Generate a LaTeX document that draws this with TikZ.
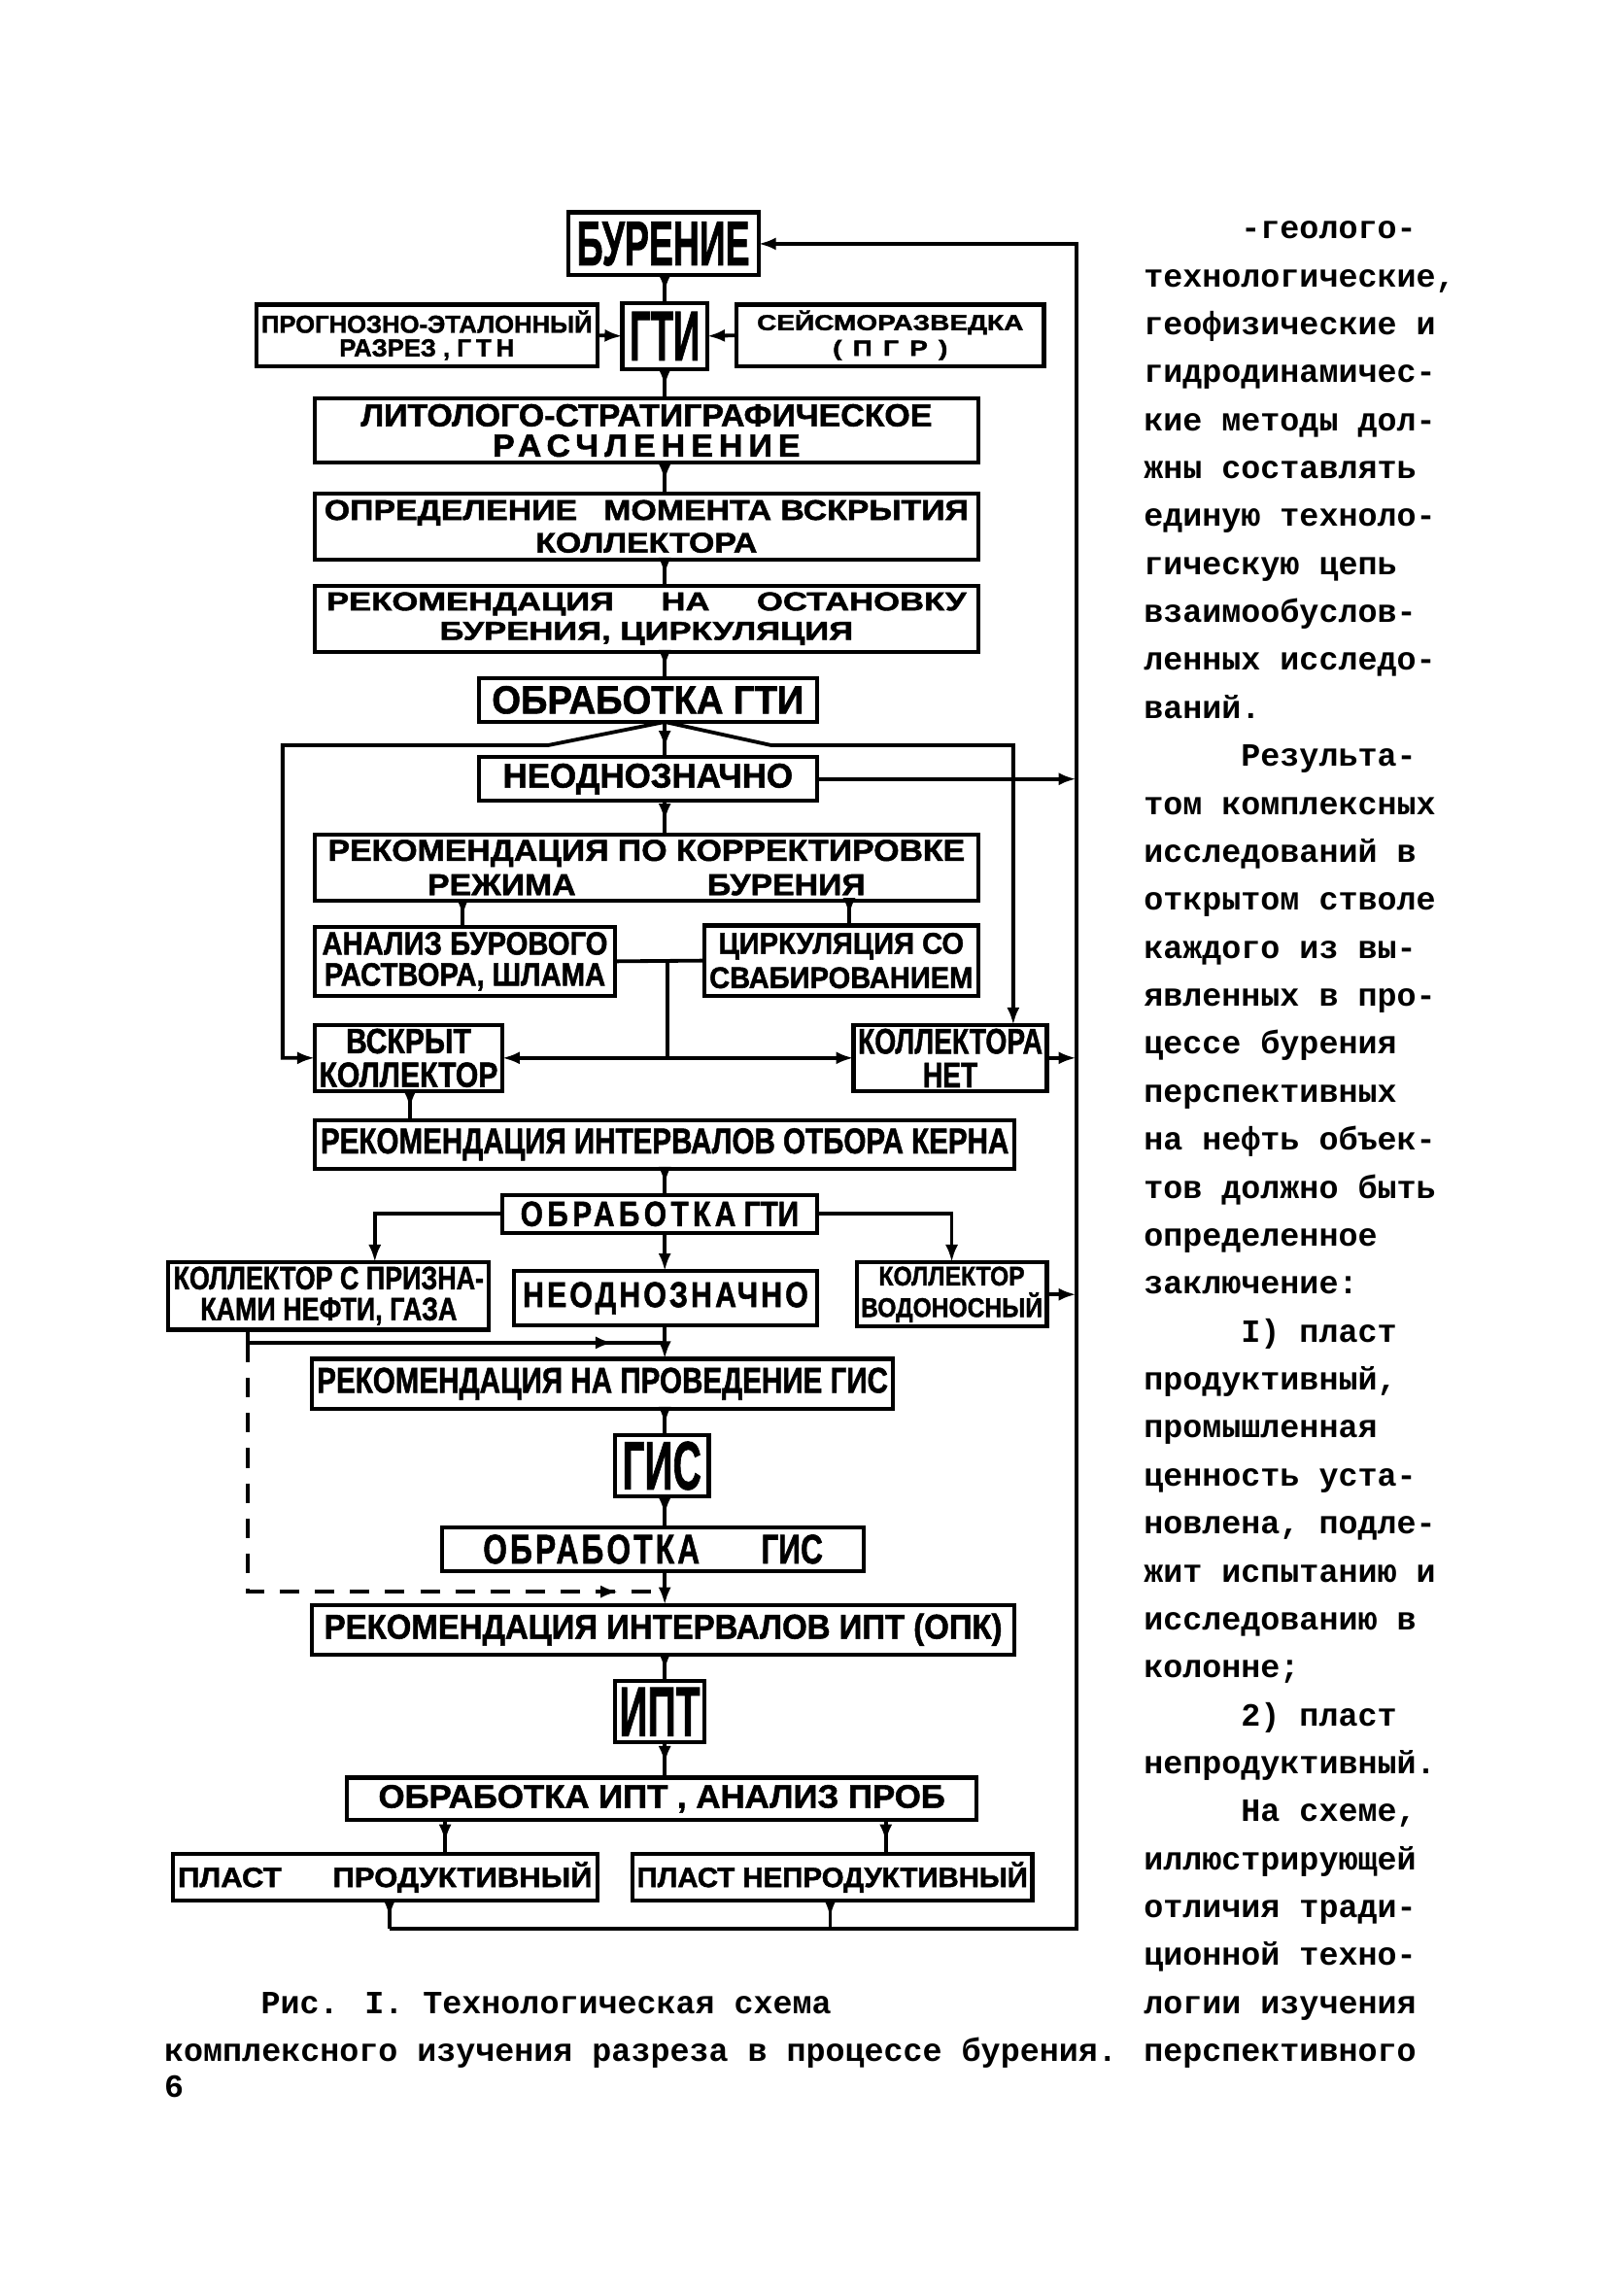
\documentclass[tikz,border=0pt]{standalone}
\usepackage{fontspec}
\usepackage{graphicx}
\newfontfamily\boxfont[BoldFeatures={FakeBold=1.5}]{Liberation Sans}
\newfontfamily\twfont{Liberation Mono}
\usetikzlibrary{arrows.meta,decorations.markings}
\newdimen\unitpx
\unitpx=0.75pt
\newcommand{\fx}[3]{\resizebox*{#1\unitpx}{#2\unitpx}{\boxfont\bfseries #3}}
\newcommand{\twol}[2]{\vbox{\baselineskip=0pt\lineskip=2.5pt\lineskiplimit=0pt\halign{\hfil##\hfil\cr #1\cr #2\cr}}}
\newcommand{\lsp}[2]{{\addfontfeature{LetterSpace=#1}#2}}
\newcommand{\bx}[6]{\node[box, minimum width={(#4-#2)*0.75pt}, minimum height={(#5-#3)*0.75pt}] (#1) at ({(#2+#4)/2},{(#3+#5)/2}) {#6};}
\begin{document}
\begin{tikzpicture}[x=0.75pt,y=-0.75pt,
  box/.style={draw, line width=2.1pt, inner sep=0pt, outer sep=0pt},
  conn/.style={line width=1.9pt},
  >={Latex[length=9pt,width=6.5pt]},
  midarrow/.style={postaction={decorate},decoration={markings,mark=at position #1 with {\arrow{>}}}},
  midarrow/.default=0.6,
  tw/.style={font=\twfont\bfseries\fontsize{16.6pt}{20pt}\selectfont, inner sep=0pt, anchor=base west}]
\fill[white] (0,0) rectangle (1097,1568);
\useasboundingbox (0,0) rectangle (1097,1568);

% ---------- boxes ----------
\bx{bur}{388}{145}{518}{188}{\fx{118}{30}{БУРЕНИЕ}}
\bx{gti}{425}{207}{483}{252}{\fx{48}{33}{ГТИ}}
\bx{prog}{175}{208}{408}{250}{\fx{226}{34}{\twol{ПРОГНОЗНО-ЭТАЛОННЫЙ}{РАЗРЕЗ , \lsp{20}{ГТН}}}}
\bx{seis}{503}{208}{713}{250}{\fx{182}{34}{\twol{СЕЙСМОРАЗВЕДКА}{\lsp{40}{(ПГР)}}}\hspace{14\unitpx}}
\bx{lit}{215}{272}{668}{316}{\fx{390}{36}{\twol{ЛИТОЛОГО-СТРАТИГРАФИЧЕСКОЕ}{\lsp{18}{РАСЧЛЕНЕНИЕ}}}}
\bx{opr}{215}{337}{668}{382}{\fx{440}{36}{\twol{ОПРЕДЕЛЕНИЕ\hspace{0.8em}МОМЕНТА ВСКРЫТИЯ}{КОЛЛЕКТОРА}}}
\bx{rek1}{215}{400}{668}{445}{\fx{437}{36}{\twol{РЕКОМЕНДАЦИЯ\hspace{1.4em}НА\hspace{1.4em}ОСТАНОВКУ}{БУРЕНИЯ, ЦИРКУЛЯЦИЯ}}}
\bx{obr1}{327}{463}{558}{493}{\fx{213}{19}{ОБРАБОТКА ГТИ}}
\bx{neod1}{327}{517}{558}{547}{\fx{198}{21}{НЕОДНОЗНАЧНО}\hspace{22\unitpx}}
\bx{rek2}{215}{570}{668}{615}{\fx{435}{38}{\twol{РЕКОМЕНДАЦИЯ ПО КОРРЕКТИРОВКЕ}{РЕЖИМА\hspace{4em}БУРЕНИЯ}}}
\bx{anal}{215}{633}{420}{680}{\fx{195}{40}{\twol{АНАЛИЗ БУРОВОГО}{РАСТВОРА, ШЛАМА}}}
\bx{cirk}{481}{632}{668}{680}{\fx{180}{38}{\twol{ЦИРКУЛЯЦИЯ СО}{СВАБИРОВАНИЕМ}}}
\bx{vskr}{215}{700}{343}{745}{\fx{122}{40}{\twol{ВСКРЫТ}{КОЛЛЕКТОР}}}
\bx{knet}{583}{700}{715}{745}{\fx{126}{40}{\twol{КОЛЛЕКТОРА}{НЕТ}}}
\bx{kern}{215}{765}{693}{798}{\fx{470}{22}{РЕКОМЕНДАЦИЯ ИНТЕРВАЛОВ ОТБОРА КЕРНА}}
\bx{obr2}{343}{816}{558}{842}{\fx{190}{17}{\lsp{15}{ОБРАБОТКА} ГТИ}}
\bx{kpriz}{115}{862}{334}{908}{\fx{212}{40}{\twol{КОЛЛЕКТОР С ПРИЗНА-}{КАМИ НЕФТИ, ГАЗА}}}
\bx{neod2}{351}{868}{558}{905}{\fx{195}{22}{\lsp{10}{НЕОДНОЗНАЧНО}}}
\bx{kvod}{585}{862}{715}{906}{\fx{124}{38}{\twol{КОЛЛЕКТОР}{ВОДОНОСНЫЙ}}}
\bx{gisrek}{213}{928}{610}{962}{\fx{390}{22}{РЕКОМЕНДАЦИЯ НА ПРОВЕДЕНИЕ ГИС}}
\bx{gis}{420}{980}{484}{1022}{\fx{54}{33}{ГИС}}
\bx{obrgis}{302}{1043}{590}{1073}{\fx{232}{20}{\lsp{10}{ОБРАБОТКА}\hspace{2em}ГИС}}
\bx{iptrec}{213}{1096}{693}{1130}{\fx{463}{22}{РЕКОМЕНДАЦИЯ ИНТЕРВАЛОВ ИПТ (ОПК)}}
\bx{ipt}{420}{1148}{481}{1190}{\fx{55}{33}{ИПТ}}
\bx{obript}{237}{1214}{667}{1243}{\fx{387}{19}{ОБРАБОТКА ИПТ , АНАЛИЗ ПРОБ}\hspace{38\unitpx}}
\bx{plp}{118}{1266}{408}{1298}{\fx{283}{21}{ПЛАСТ\hspace{1.7em}ПРОДУКТИВНЫЙ}}
\bx{plnp}{432}{1266}{705}{1298}{\fx{267}{21}{ПЛАСТ НЕПРОДУКТИВНЫЙ}}

% ---------- helper coordinates ----------
\coordinate (sp) at (454,0);
\coordinate (bl) at (374,509);
\coordinate (blc) at (193,509);
\coordinate (br) at (527,509);
\coordinate (brc) at (692,509);
\coordinate (xF) at (735,0);
\coordinate (xa) at (316,0);
\coordinate (xc) at (580,0);
\coordinate (xm) at (456,0);
\coordinate (xv) at (280,0);
\coordinate (xk1) at (256,0);
\coordinate (xk2) at (650,0);
\coordinate (xd) at (169,0);
\coordinate (jn) at (454,917);
\coordinate (jd) at (454,1087);
\coordinate (xp1) at (304,0);
\coordinate (xp2) at (605,0);
\coordinate (xq1) at (266,0);
\coordinate (xq2) at (567,0);
\coordinate (bb) at (735,1317);

% ---------- connectors ----------
\draw[conn,midarrow] (sp|-bur.south) -- (sp|-gti.north);
\draw[conn,->] (prog.east) -- (gti.west);
\draw[conn,->] (seis.west) -- (gti.east);
\draw[conn,midarrow] (sp|-gti.south) -- (sp|-lit.north);
\draw[conn,midarrow] (sp|-lit.south) -- (sp|-opr.north);
\draw[conn,midarrow] (sp|-opr.south) -- (sp|-rek1.north);
\draw[conn,midarrow] (sp|-rek1.south) -- (sp|-obr1.north);
\draw[conn,midarrow=0.75] (sp|-obr1.south) -- (sp|-neod1.north);
\draw[conn,->] (sp|-obr1.south) -- (bl) -- (blc) |- (vskr.west);
\draw[conn,->] (sp|-obr1.south) -- (br) -- (brc) -- (brc|-knet.north);
\draw[conn,->] (neod1.east) -- (neod1.east-|xF);
\draw[conn,midarrow] (sp|-neod1.south) -- (sp|-rek2.north);
\draw[conn,midarrow] (xa|-rek2.south) -- (xa|-anal.north);
\draw[conn,midarrow] (xc|-rek2.south) -- (xc|-cirk.north);
\draw[conn] (anal.east) -- (cirk.west);
\draw[conn] (xm|-anal.east) -- (xm|-vskr.east);
\draw[conn,->] (xm|-vskr.east) -- (vskr.east);
\draw[conn,->] (xm|-vskr.east) -- (knet.west);
\draw[conn,->] (knet.east) -- (knet.east-|xF);
\draw[conn,midarrow] (xv|-vskr.south) -- (xv|-kern.north);
\draw[conn,midarrow] (sp|-kern.south) -- (sp|-obr2.north);
\draw[conn,->] (obr2.west) -| (xk1|-kpriz.north);
\draw[conn,->] (obr2.east) -| (xk2|-kvod.north);
\draw[conn,->] (sp|-obr2.south) -- (sp|-neod2.north);
\draw[conn,->] (kvod.east) -- (kvod.east-|xF);
\draw[conn,midarrow=0.88] (xd|-kpriz.south) -- (xd|-jn) -- (jn);
\draw[conn,->] (sp|-neod2.south) -- (sp|-gisrek.north);
\draw[conn,dash pattern=on 10pt off 8pt,midarrow=0.93] (xd|-jn) -- (xd|-jd) -- (jd);
\draw[conn,midarrow] (sp|-gisrek.south) -- (sp|-gis.north);
\draw[conn,midarrow] (sp|-gis.south) -- (sp|-obrgis.north);
\draw[conn,->] (sp|-obrgis.south) -- (sp|-iptrec.north);
\draw[conn,midarrow] (sp|-iptrec.south) -- (sp|-ipt.north);
\draw[conn,midarrow] (sp|-ipt.south) -- (sp|-obript.north);
\draw[conn,midarrow=0.65] (xp1|-obript.south) -- (xp1|-plp.north);
\draw[conn,midarrow=0.65] (xp2|-obript.south) -- (xp2|-plnp.north);
\draw[conn,midarrow] (xq1|-plp.south) -- (xq1|-bb);
\draw[conn,midarrow] (xq2|-plnp.south) -- (xq2|-bb);
\draw[conn,->] (xq1|-bb) -- (bb) |- (bur.east);

% ---------- text column ----------
\foreach \t [count=\i from 0] in {
{\hspace*{3em}-геолого-},
{технологические,},
{геофизические и},
{гидродинамичес-},
{кие методы дол-},
{жны составлять},
{единую техноло-},
{гическую цепь},
{взаимообуслов-},
{ленных исследо-},
{ваний.},
{\hspace*{3em}Результа-},
{том комплексных},
{исследований в},
{открытом стволе},
{каждого из вы-},
{явленных в про-},
{цессе бурения},
{перспективных},
{на нефть объек-},
{тов должно быть},
{определенное},
{заключение:},
{\hspace*{3em}I) пласт},
{продуктивный,},
{промышленная},
{ценность уста-},
{новлена, подле-},
{жит испытанию и},
{исследованию в},
{колонне;},
{\hspace*{3em}2) пласт},
{непродуктивный.},
{\hspace*{3em}На схеме,},
{иллюстрирующей},
{отличия тради-},
{ционной техно-},
{логии изучения},
{перспективного}}
  \node[tw] (ln\i) at (781,{163+32.76*\i}) {\t};

\node[tw] (cap1) at (178,{163+32.76*37}) {Рис. I. Технологическая схема};
\node[tw] (cap2) at (112,{163+32.76*38}) {комплексного изучения разреза в процессе бурения.};
\node[tw] (pg) at (112,1432) {6};
\end{tikzpicture}
\end{document}
